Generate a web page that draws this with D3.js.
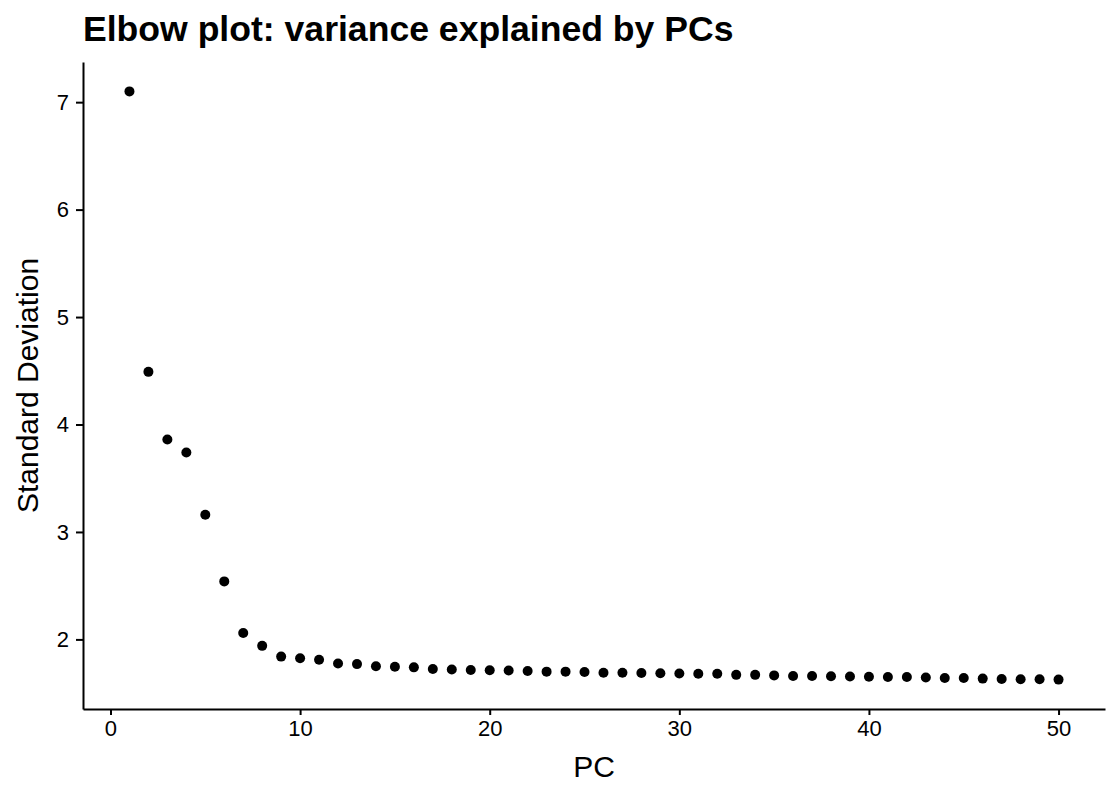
<!DOCTYPE html>
<html>
<head>
<meta charset="utf-8">
<script src="https://cdn.jsdelivr.net/npm/d3@7"></script>
<style>
  body { margin: 0; background: #fff; }
  svg { font-family: "Liberation Sans", Arial, sans-serif; }
  .axis path, .axis line { stroke: #000; stroke-width: 2px; }
</style>
</head>
<body>
<div id="chart"></div>
<script>
// principal components 1..50
var pcs = d3.range(1, 51);

// standard deviation per PC
var stdevs = [
  7.10, 4.49, 3.86, 3.74, 3.16, 2.54, 2.06, 1.94, 1.84, 1.825,
  1.81, 1.775, 1.77, 1.75, 1.745, 1.74, 1.725, 1.72, 1.716, 1.713,
  1.71, 1.706, 1.70, 1.70, 1.697, 1.69, 1.69, 1.688, 1.685, 1.682,
  1.68, 1.68, 1.67, 1.67, 1.665, 1.66, 1.66, 1.657, 1.655, 1.652,
  1.65, 1.65, 1.645, 1.64, 1.64, 1.635, 1.632, 1.63, 1.63, 1.626
];

var xTicks = [0, 10, 20, 30, 40, 50];
var yTicks = [2, 3, 4, 5, 6, 7];

var data = pcs.map(function(p, i) { return {pc: p, sd: stdevs[i]}; });

var fullW = 1120, fullH = 800;
var margin = {top: 62, right: 15, bottom: 91, left: 83};
var width = fullW - margin.left - margin.right,
    height = fullH - margin.top - margin.bottom;

var svg = d3.select("#chart").append("svg")
    .attr("width", fullW)
    .attr("height", fullH);

var g = svg.append("g")
    .attr("transform", "translate(" + margin.left + "," + margin.top + ")");

// ggplot-style 5% expansion
var xMin = d3.min(pcs), xMax = d3.max(pcs);
var xPad = (xMax - xMin) * 0.05;
var yMin = d3.min(stdevs), yMax = d3.max(stdevs);
var yPad = (yMax - yMin) * 0.05;

var xScale = d3.scaleLinear().domain([xMin - xPad, xMax + xPad]).range([0, width]);
var yScale = d3.scaleLinear().domain([yMin - yPad, yMax + yPad]).range([height, 0]);

var xAxis = d3.axisBottom(xScale).tickValues(xTicks).tickFormat(d3.format("d"))
    .tickSizeInner(6).tickSizeOuter(0).tickPadding(5);
var yAxis = d3.axisLeft(yScale).tickValues(yTicks).tickFormat(d3.format("d"))
    .tickSizeInner(7).tickSizeOuter(0).tickPadding(7);

var x_axis_elem = g.append("g")
    .attr("class", "x axis")
    .attr("transform", "translate(0," + height + ")")
    .call(xAxis);

var y_axis_elem = g.append("g")
    .attr("class", "y axis")
    .call(yAxis);

g.selectAll(".axis text")
    .style("font-size", "22px")
    .style("fill", "#000");

g.selectAll(".dot")
    .data(data)
  .enter().append("circle")
    .attr("class", "dot")
    .attr("cx", function(d) { return xScale(d.pc); })
    .attr("cy", function(d) { return yScale(d.sd); })
    .attr("r", 5)
    .style("fill", "#000");

// axis titles
svg.append("text")
    .attr("x", margin.left + width / 2)
    .attr("y", 777)
    .style("text-anchor", "middle")
    .style("font-size", "30px")
    .text("PC");

svg.append("text")
    .attr("transform", "translate(38," + (margin.top + height / 2) + ") rotate(-90)")
    .style("text-anchor", "middle")
    .style("font-size", "30px")
    .text("Standard Deviation");

svg.append("text")
    .attr("x", 83)
    .attr("y", 41)
    .style("font-size", "35.6px")
    .style("font-weight", "bold")
    .text("Elbow plot: variance explained by PCs");
</script>
</body>
</html>
